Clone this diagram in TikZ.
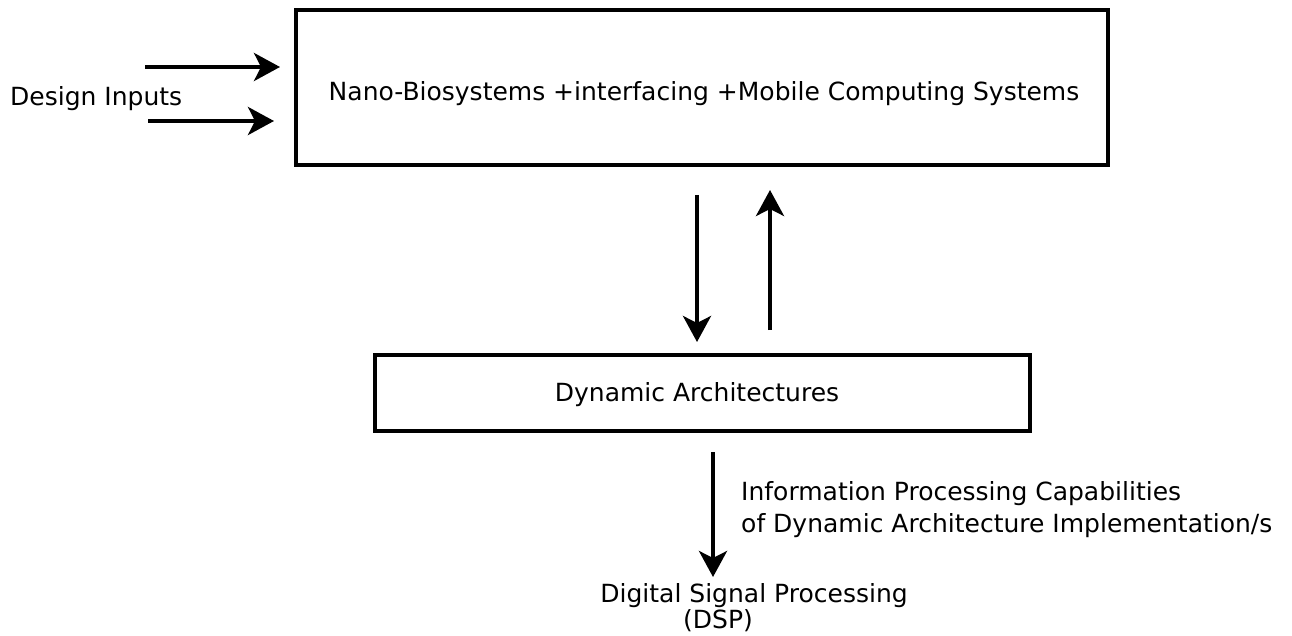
\documentclass[tikz,border=0pt]{standalone}
\usepackage{fontspec}
\setmainfont{DejaVu Sans}
\usetikzlibrary{arrows.meta}
\begin{document}
\begin{tikzpicture}[x=1pt,y=-1pt,
  box/.style={draw,line width=3.5pt,inner sep=0pt},
  lbl/.style={font=\fontsize{25}{30}\selectfont,inner sep=0pt},
  arr/.style={line width=4pt,-{Stealth[length=26pt,width=28pt,inset=7pt]}}]
\useasboundingbox (0,0) rectangle (1292,636);
\node[box,minimum width=812pt,minimum height=155pt] (top) at (702,87.5) {};
\node[lbl] (toptext) at (704,94) {Nano-Biosystems +interfacing +Mobile Computing Systems};
\node[lbl,anchor=west] (din) at (10,99) {Design Inputs};
\coordinate (a1s) at (145,67);
\coordinate (a1e) at (280,67);
\coordinate (a2s) at (148,121);
\coordinate (a2e) at (274,121);
\draw[arr] (a1s) -- (a1e);
\draw[arr] (a2s) -- (a2e);
\node[box,minimum width=655pt,minimum height=76pt] (mid) at (702.5,393) {};
\node[lbl] (midtext) at (697,395) {Dynamic Architectures};
\coordinate (d1s) at (697,195);
\coordinate (d1e) at (697,342);
\coordinate (u1s) at (770,330);
\coordinate (u1e) at (770,190);
\draw[arr] (d1s) -- (d1e);
\draw[arr] (u1s) -- (u1e);
\coordinate (b1s) at (713,452);
\coordinate (b1e) at (713,577);
\draw[arr] (b1s) -- (b1e);
\node[lbl,anchor=west] (info1) at (741,494) {Information Processing Capabilities};
\node[lbl,anchor=west] (info2) at (741,526) {of Dynamic Architecture Implementation/s};
\node[lbl] (dsp1) at (754,596) {Digital Signal Processing};
\node[lbl,anchor=west] (dsp2) at (683,621) {(DSP)};
\end{tikzpicture}
\end{document}
